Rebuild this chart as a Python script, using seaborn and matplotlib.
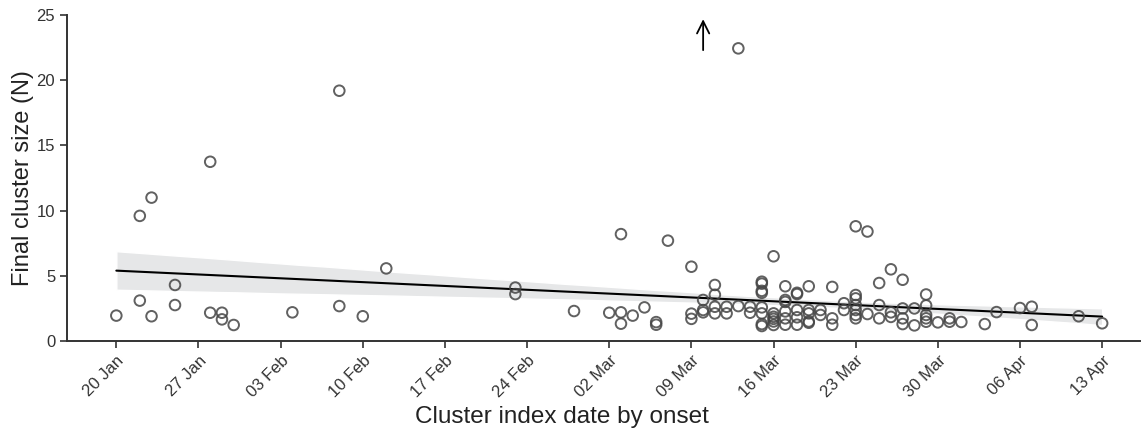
import matplotlib
matplotlib.use("Agg")
import matplotlib.pyplot as plt
import seaborn as sns
import numpy as np
import pandas as pd

# Days since 20 Jan 2020 (cluster index date by onset)
onset_day = [
    0,
    2, 2,
    3, 3,
    5, 5,
    8, 8,
    9, 9,
    10,
    15,
    19, 19,
    21,
    23,
    34, 34,
    39,
    42,
    43, 43, 43,
    44,
    45,
    46, 46,
    47,
    49, 49, 49,
    50, 50, 50,
    51, 51, 51, 51,
    52, 52,
    53, 53,
    54, 54,
    55, 55, 55, 55, 55, 55, 55, 55,
    56, 56, 56, 56, 56, 56,
    57, 57, 57, 57, 57, 57,
    58, 58, 58, 58, 58,
    59, 59, 59, 59, 59,
    60, 60,
    61, 61, 61,
    62, 62,
    63, 63, 63, 63, 63, 63, 63,
    64, 64,
    65, 65, 65,
    66, 66, 66,
    67, 67, 67, 67,
    68, 68,
    69, 69, 69, 69, 69,
    70,
    71, 71,
    72,
    74,
    75,
    77,
    78, 78,
    82,
    84,
]

# Final cluster size (jittered, as plotted)
cluster_size = [
    1.95,
    9.6, 3.1,
    11.0, 1.9,
    4.3, 2.76,
    13.75, 2.17,
    2.17, 1.66,
    1.23,
    2.2,
    19.2, 2.68,
    1.9,
    5.57,
    4.1, 3.6,
    2.3,
    2.17,
    8.2, 2.2, 1.33,
    1.95,
    2.58,
    1.45, 1.25,
    7.7,
    5.7, 2.1, 1.7,
    3.15, 2.38, 2.2,
    4.3, 3.55, 2.63, 2.12,
    2.63, 2.12,
    22.45, 2.68,
    2.63, 2.17,
    4.55, 4.4, 3.85, 3.7, 2.58, 2.12, 1.3, 1.15,
    6.5, 2.12, 1.86, 1.7, 1.5, 1.23,
    4.2, 3.15, 3.0, 2.27, 1.74, 1.25,
    3.7, 3.6, 2.38, 1.82, 1.25,
    4.2, 2.38, 2.12, 1.5, 1.4,
    2.38, 2.0,
    4.15, 1.74, 1.25,
    2.9, 2.38,
    8.8, 3.53, 3.27, 2.76, 2.38, 2.0, 1.74,
    8.4, 2.07,
    4.45, 2.76, 1.74,
    5.5, 2.2, 1.85,
    4.7, 2.5, 1.74, 1.3,
    2.5, 1.2,
    3.57, 2.73, 2.0, 1.74, 1.48,
    1.43,
    1.74, 1.48,
    1.46,
    1.3,
    2.22,
    2.53,
    2.63, 1.23,
    1.9,
    1.36,
]

tick_days = [0, 7, 14, 21, 28, 35, 42, 49, 56, 63, 70, 77, 84]
tick_labels = ["20 Jan", "27 Jan", "03 Feb", "10 Feb", "17 Feb", "24 Feb",
               "02 Mar", "09 Mar", "16 Mar", "23 Mar", "30 Mar", "06 Apr", "13 Apr"]

# off-scale cluster marker (arrow) position
arrow_day = 50
arrow_from = 22.1
arrow_to = 24.9

df = pd.DataFrame({"day": onset_day, "size": cluster_size})

sns.set_style("ticks")
plt.rcParams["font.family"] = ["Liberation Sans", "DejaVu Sans"]
plt.rcParams["text.color"] = "#222222"
plt.rcParams["axes.labelcolor"] = "#222222"
plt.rcParams["xtick.color"] = "#333333"
plt.rcParams["ytick.color"] = "#333333"

fig = plt.figure(figsize=(11.42, 4.32), dpi=100)
ax = fig.add_axes([0.0587, 0.2106, 0.9393, 0.7544])

sns.regplot(data=df, x="day", y="size", ax=ax, scatter=False, ci=80, seed=0,
            color="black", line_kws={"linewidth": 1.5, "zorder": 3})
for coll in ax.collections:
    coll.set_facecolor("#e6e7e8")
    coll.set_alpha(1)
    coll.set_zorder(1)

sns.scatterplot(data=df, x="day", y="size", ax=ax, marker="o", s=58,
                facecolor="none", edgecolor="#454545", linewidth=1.4,
                alpha=0.85, zorder=4)

ax.annotate("", xy=(arrow_day, arrow_to), xytext=(arrow_day, arrow_from),
            arrowprops=dict(arrowstyle="->", color="black", lw=1.3,
                            mutation_scale=22))

ax.set_xlim(-4.2, 87.2)
ax.set_ylim(0, 25)
ax.set_yticks([0, 5, 10, 15, 20, 25])
ax.set_xticks(tick_days)
ax.set_xticklabels(tick_labels, rotation=45, ha="right", rotation_mode="anchor")
ax.tick_params(axis="both", labelsize=12, length=5, width=1.2, color="#333333")
ax.set_xlabel("Cluster index date by onset", fontsize=17.5)
ax.set_ylabel("Final cluster size (N)", fontsize=17)
ax.xaxis.set_label_coords(0.461, -0.2)
ax.yaxis.set_label_coords(-0.031, 0.5)
for s in ["left", "bottom"]:
    ax.spines[s].set_linewidth(1.4)
    ax.spines[s].set_color("#333333")
sns.despine(ax=ax)

fig.savefig("out.png", dpi=100)
